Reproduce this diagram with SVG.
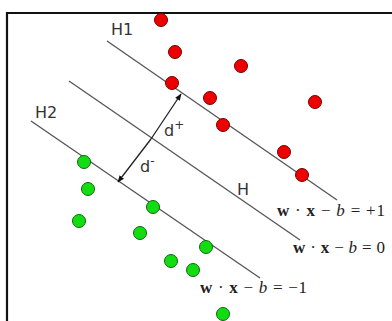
<svg xmlns="http://www.w3.org/2000/svg" width="392" height="321" viewBox="0 0 392 321">
<defs>
<style>
.ln{stroke:#555;stroke-width:1.3;fill:none}
.ar{stroke:#222;stroke-width:1.3;fill:none}
.red{fill:#ee0000;stroke:#770000;stroke-width:1}
.grn{fill:#11dd11;stroke:#116611;stroke-width:1}
.lbl{font-family:"DejaVu Sans",Verdana,sans-serif;font-size:16px;fill:#333}
.eq{font-family:"Liberation Serif","Times New Roman",serif;font-size:17px;fill:#222}
.bd{font-weight:bold}
.it{font-style:italic}
</style>
<marker id="ah" viewBox="0 0 10 10" refX="9" refY="5" markerWidth="7" markerHeight="7" orient="auto" markerUnits="userSpaceOnUse">
<path d="M0,1 L10,5 L0,9 Z" fill="#111"/>
</marker>
</defs>
<rect x="0" y="0" width="392" height="321" fill="#fff"/>
<path d="M7,321 V13 H392" fill="none" stroke="#111" stroke-width="2.2"/>
<g id="connectors">
<line id="H1line" class="ln" x1="107" y1="41" x2="337" y2="200"/>
<line id="Hline" class="ln" x1="69" y1="81" x2="300" y2="240"/>
<line id="H2line" class="ln" x1="31" y1="121" x2="260" y2="278"/>
<line id="dplus" class="ar" x1="151" y1="139" x2="181" y2="94" marker-end="url(#ah)"/>
<line id="dminus" class="ar" x1="151" y1="139" x2="118" y2="182" marker-end="url(#ah)"/>
</g>
<g id="redpoints">
<circle class="red" cx="161" cy="20" r="6.5"/>
<circle class="red" cx="175" cy="52" r="6.5"/>
<circle class="red" cx="172" cy="83" r="6.5"/>
<circle class="red" cx="241" cy="66" r="6.5"/>
<circle class="red" cx="210" cy="98" r="6.5"/>
<circle class="red" cx="223" cy="125" r="6.5"/>
<circle class="red" cx="315" cy="102" r="6.5"/>
<circle class="red" cx="284" cy="152" r="6.5"/>
<circle class="red" cx="302" cy="175" r="6.5"/>
</g>
<g id="greenpoints">
<circle class="grn" cx="84" cy="162" r="6.5"/>
<circle class="grn" cx="88" cy="189" r="6.5"/>
<circle class="grn" cx="79" cy="221" r="6.5"/>
<circle class="grn" cx="153" cy="207" r="6.5"/>
<circle class="grn" cx="140" cy="233" r="6.5"/>
<circle class="grn" cx="171" cy="261" r="6.5"/>
<circle class="grn" cx="193" cy="270" r="6.5"/>
<circle class="grn" cx="206" cy="247" r="6.5"/>
<circle class="grn" cx="223" cy="314" r="6.5"/>
</g>
<g id="labels">
<text class="lbl" x="111" y="35">H1</text>
<text class="lbl" x="35" y="118">H2</text>
<text class="lbl" x="237" y="195">H</text>
<text class="lbl" x="164" y="136">d<tspan font-size="12" dy="-7">+</tspan></text>
<text class="lbl" x="140" y="172">d<tspan font-size="12" dy="-7">-</tspan></text>
</g>
<g id="equations">
<text class="eq" x="277" y="216" textLength="108" lengthAdjust="spacing"><tspan class="bd">w</tspan> · <tspan class="bd">x</tspan> − <tspan class="it">b</tspan> = +1</text>
<text class="eq" x="293" y="253" textLength="92" lengthAdjust="spacing"><tspan class="bd">w</tspan> · <tspan class="bd">x</tspan> − <tspan class="it">b</tspan> = 0</text>
<text class="eq" x="200" y="293" textLength="107" lengthAdjust="spacing"><tspan class="bd">w</tspan> · <tspan class="bd">x</tspan> − <tspan class="it">b</tspan> = −1</text>
</g>
</svg>
